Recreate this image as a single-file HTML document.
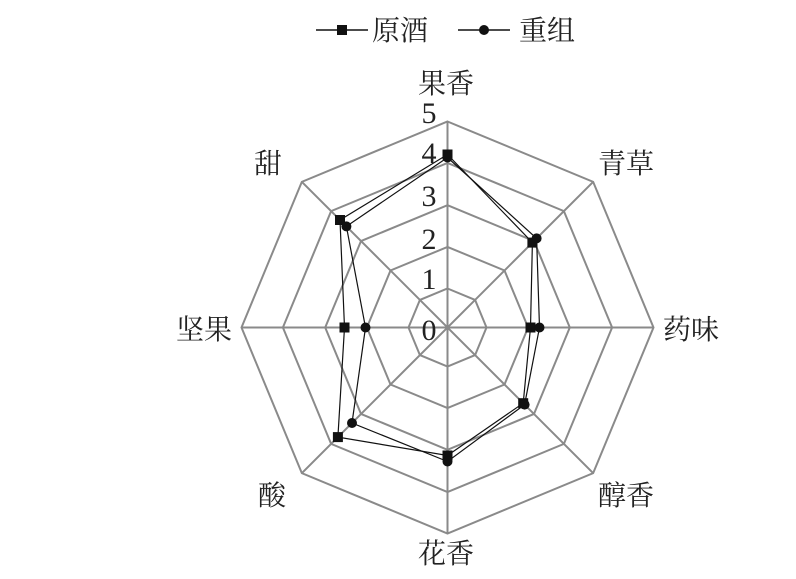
<!DOCTYPE html>
<html><head><meta charset="utf-8"><style>
html,body{margin:0;padding:0;background:#fff;}
svg{display:block;}
text{font-family:"Liberation Serif","Noto Serif CJK SC",serif;fill:#222;}
</style></head><body>
<svg width="796" height="579" viewBox="0 0 796 579" xmlns="http://www.w3.org/2000/svg">
<defs>
<polygon id="oct" points="0,-1 0.7071,-0.7071 1,0 0.7071,0.7071 0,1 -0.7071,0.7071 -1,0 -0.7071,-0.7071"/>
</defs>
<g fill="none" stroke="#8a8a8a" stroke-width="2">
<use href="#oct" transform="translate(447.5,327.5) scale(206)" stroke-width="0.0097"/>
<use href="#oct" transform="translate(447.5,327.5) scale(164.6)" stroke-width="0.01215"/>
<use href="#oct" transform="translate(447.5,327.5) scale(122.3)" stroke-width="0.01635"/>
<use href="#oct" transform="translate(447.5,327.5) scale(80.6)" stroke-width="0.0248"/>
<use href="#oct" transform="translate(447.5,327.5) scale(39)" stroke-width="0.0513"/>
<line x1="447.5" y1="121.5" x2="447.5" y2="533.5"/>
<line x1="241.5" y1="327.5" x2="653.5" y2="327.5"/>
<line x1="301.8" y1="181.8" x2="593.2" y2="473.2"/>
<line x1="593.2" y1="181.8" x2="301.8" y2="473.2"/>
</g>
<g font-size="30" text-anchor="middle">
<text x="429" y="123">5</text>
<text x="429" y="163">4</text>
<text x="429" y="206">3</text>
<text x="429" y="249">2</text>
<text x="429" y="289">1</text>
<text x="429" y="340">0</text>
</g>
<polygon fill="none" stroke="#111" stroke-width="1.2" points="447.5,154.5 532.4,242.6 530.5,327.5 523.2,403.2 447.5,455.5 337.9,437.1 344.5,327.5 340,220"/>
<polygon fill="none" stroke="#111" stroke-width="1.2" points="447.5,157.5 536.6,238.4 539.5,327.5 524.6,404.6 447.5,461.5 352,423 365.5,327.5 346.4,226.4"/>
<g fill="#111">
<rect x="442.5" y="149.5" width="10" height="10"/>
<rect x="527.4" y="237.6" width="10" height="10"/>
<rect x="525.5" y="322.5" width="10" height="10"/>
<rect x="518.2" y="398.2" width="10" height="10"/>
<rect x="442.5" y="450.5" width="10" height="10"/>
<rect x="332.9" y="432.1" width="10" height="10"/>
<rect x="339.5" y="322.5" width="10" height="10"/>
<rect x="335" y="215" width="10" height="10"/>
<circle cx="447.5" cy="157.5" r="5"/>
<circle cx="536.6" cy="238.4" r="5"/>
<circle cx="539.5" cy="327.5" r="5"/>
<circle cx="524.6" cy="404.6" r="5"/>
<circle cx="447.5" cy="461.5" r="5"/>
<circle cx="352" cy="423" r="5"/>
<circle cx="365.5" cy="327.5" r="5"/>
<circle cx="346.4" cy="226.4" r="5"/>
</g>
<g font-size="28" text-anchor="middle">
<text x="446" y="93">果香</text>
<text x="626" y="173">青草</text>
<text x="691" y="339">药味</text>
<text x="626" y="505">醇香</text>
<text x="446" y="563">花香</text>
<text x="272" y="505">酸</text>
<text x="204" y="339">坚果</text>
<text x="268" y="173">甜</text>
</g>
<g stroke="#111" stroke-width="1.5">
<line x1="316" y1="30" x2="368" y2="30"/>
<line x1="458" y1="30" x2="510" y2="30"/>
</g>
<rect x="337" y="25" width="10" height="10" fill="#111"/>
<circle cx="484" cy="30" r="5" fill="#111"/>
<g font-size="28">
<text x="372" y="40">原酒</text>
<text x="519" y="40">重组</text>
</g>
</svg>
</body></html>
